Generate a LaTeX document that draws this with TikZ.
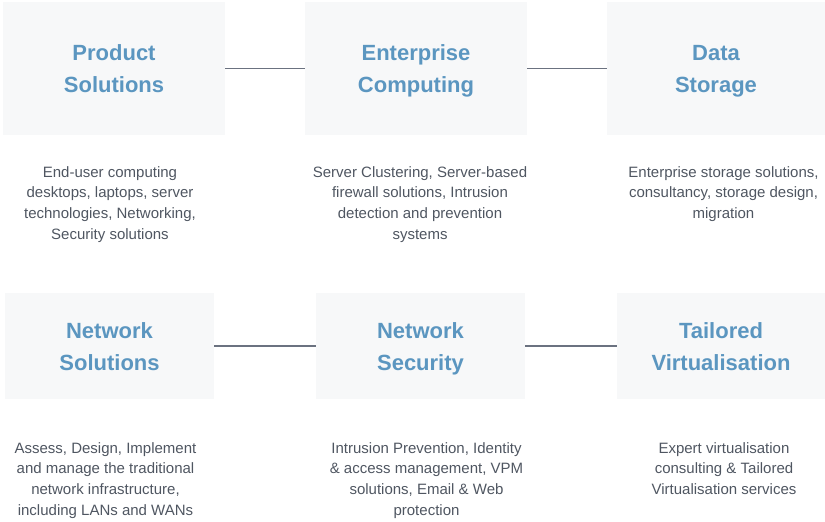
\documentclass[tikz,border=0pt]{standalone}
\usepackage{fontspec}
\setmainfont{Liberation Sans}
\definecolor{boxfill}{HTML}{F7F8F9}
\definecolor{titleblue}{HTML}{5B96C0}
\definecolor{descgray}{HTML}{4F5661}
\definecolor{linegray}{HTML}{6B7280}
\tikzset{
  box/.style={fill=boxfill, draw=none, inner sep=0pt, align=center,
    text=titleblue, font=\bfseries\fontsize{22}{32}\selectfont,
    text height=48pt, text depth=0pt},
  desc/.style={inner sep=0pt, align=center, text=descgray, anchor=base,
    font=\fontsize{15}{20.8}\selectfont},
  link/.style={draw=linegray, line width=1.5pt}
}
\begin{document}
\begin{tikzpicture}[x=1pt,y=-1pt]
\useasboundingbox (0,0) rectangle (825,522);
% top row
\node[box, minimum width=222pt, minimum height=133pt] (b1) at (114,68.5) {Product\\Solutions};
\node[box, minimum width=222pt, minimum height=133pt] (b2) at (416,68.5) {Enterprise\\Computing};
\node[box, minimum width=218pt, minimum height=133pt] (b3) at (716,68.5) {Data\\Storage};
% bottom row
\node[box, minimum width=209pt, minimum height=106pt] (b4) at (109.5,346) {Network\\Solutions};
\node[box, minimum width=209pt, minimum height=106pt] (b5) at (420.5,346) {Network\\Security};
\node[box, minimum width=208pt, minimum height=106pt] (b6) at (721,346) {Tailored\\Virtualisation};
% connectors
\draw[link] (b1.east) -- (b2.west);
\draw[link] (b2.east) -- (b3.west);
\draw[link] (b4.east) -- (b5.west);
\draw[link] (b5.east) -- (b6.west);
% descriptions (anchored at the baseline of their last line)
\node[desc] (d1) at (110,239.4) {End-user computing\\desktops, laptops, server\\technologies, Networking,\\Security solutions};
\node[desc] (d2) at (420,239.4) {Server Clustering, Server-based\\firewall solutions, Intrusion\\detection and prevention\\systems};
\node[desc] (d3) at (723.5,218.6) {Enterprise storage solutions,\\consultancy, storage design,\\migration};
\node[desc] (d4) at (105.5,515.4) {Assess, Design, Implement\\and manage the traditional\\network infrastructure,\\including LANs and WANs};
\node[desc] (d5) at (426.5,515.4) {Intrusion Prevention, Identity\\\& access management, VPM\\solutions, Email \& Web\\protection};
\node[desc] (d6) at (724,494.6) {Expert virtualisation\\consulting \& Tailored\\Virtualisation services};
\end{tikzpicture}
\end{document}
